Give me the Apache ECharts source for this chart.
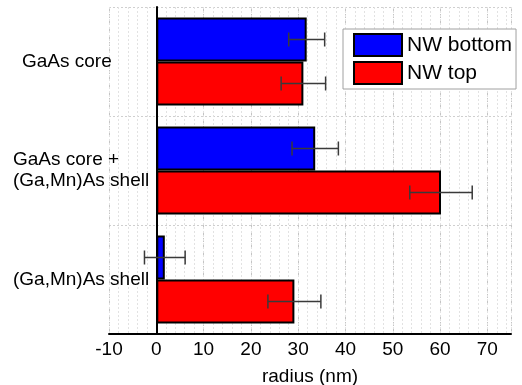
<!DOCTYPE html>
<html>
<head>
<meta charset="utf-8">
<script src="https://cdn.jsdelivr.net/npm/echarts@6/dist/echarts.min.js"></script>
<style>
  html, body { margin: 0; padding: 0; background: #fff; }
  #chart { width: 522px; height: 385px; }
</style>
</head>
<body>
<div id="chart"></div>
<script>
// Nanowire radius by structure, measured at the bottom and the top of the wire
const categories = ['GaAs core', 'GaAs core +\n(Ga,Mn)As shell', '(Ga,Mn)As shell'];
const bottomRadius = [31.8, 33.6, 1.8];
const bottomError = [3.8, 4.9, 4.3];
const topRadius = [31.1, 60.2, 29.2];
const topError = [4.7, 6.6, 5.6];
const seriesNames = ['NW bottom', 'NW top'];

const FONT = 'Liberation Sans, Arial, sans-serif';
const BAR_W = 44;

function errorData(values, errors) {
  return values.map((v, i) => [i, v - errors[i], v + errors[i]]);
}

function errorBarSeries(values, errors, offset) {
  return {
    type: 'custom',
    xAxisIndex: 0,
    yAxisIndex: 0,
    z: 10,
    silent: true,
    encode: { x: [1, 2], y: 0 },
    data: errorData(values, errors),
    renderItem: function (params, api) {
      const cat = api.value(0);
      const lo = api.coord([api.value(1), cat]);
      const hi = api.coord([api.value(2), cat]);
      const y = lo[1] + offset;
      const cap = 7;
      const style = { stroke: '#3a3a3a', lineWidth: 1.5, fill: null };
      return {
        type: 'group',
        children: [
          { type: 'line', shape: { x1: lo[0], y1: y, x2: hi[0], y2: y }, style: style },
          { type: 'line', shape: { x1: lo[0], y1: y - cap, x2: lo[0], y2: y + cap }, style: style },
          { type: 'line', shape: { x1: hi[0], y1: y - cap, x2: hi[0], y2: y + cap }, style: style }
        ]
      };
    }
  };
}

const chart = echarts.init(document.getElementById('chart'), null, { renderer: 'canvas' });

chart.setOption({
  animation: false,
  backgroundColor: '#fff',
  textStyle: { fontFamily: FONT },
  grid: { left: 109, right: 11, top: 7, bottom: 51, containLabel: false, outerBoundsMode: 'none' },
  legend: {
    data: seriesNames,
    orient: 'vertical',
    left: 343,
    top: 29,
    z: 20,
    padding: [4, 4, 4, 10],
    itemGap: 4,
    itemWidth: 48,
    itemHeight: 22,
    icon: 'rect',
    backgroundColor: '#fff',
    borderColor: '#a0a0a0',
    borderWidth: 1,
    borderRadius: 0,
    textStyle: { fontSize: 21, color: '#000', fontFamily: FONT }
  },
  xAxis: [
    {
      type: 'value',
      min: -10,
      max: 75,
      interval: 10,
      name: 'radius (nm)',
      nameLocation: 'middle',
      nameGap: 33,
      nameTextStyle: { fontSize: 19, color: '#000', fontFamily: FONT },
      axisLine: { show: true, onZero: false, lineStyle: { color: '#000', width: 2 } },
      axisTick: { show: false },
      axisLabel: { fontSize: 19, color: '#000', margin: 6, fontFamily: FONT, showMaxLabel: false,
        formatter: v => (v % 10 === 0 ? String(v) : '') },
      splitLine: { show: true, lineStyle: { color: '#c4c4c4', type: [4, 3], width: 1 } }
    },
    {
      // fine 2 nm grid behind the main one
      type: 'value',
      min: -10,
      max: 75,
      interval: 2,
      axisLine: { show: false },
      axisTick: { show: false },
      axisLabel: { show: false },
      splitLine: { show: true, lineStyle: { color: '#e2e2e2', type: [2, 2], width: 1 } }
    }
  ],
  yAxis: {
    type: 'category',
    inverse: true,
    data: categories,
    axisLine: { show: true, onZero: true, onZeroAxisIndex: 0, lineStyle: { color: '#000', width: 2 } },
    axisTick: { show: false },
    axisLabel: {
      align: 'left',
      margin: 96,
      fontSize: 19,
      lineHeight: 21,
      color: '#000',
      fontFamily: FONT,
      formatter: v => (v === 'GaAs core' ? '{pad|' + v + '}' : v),
      rich: { pad: { fontSize: 19, color: '#000', fontFamily: FONT, padding: [0, 0, 0, 9] } }
    },
    splitLine: { show: true, lineStyle: { color: '#cfcfcf', type: [2, 2], width: 1 } }
  },
  series: [
    {
      name: seriesNames[0],
      type: 'bar',
      data: bottomRadius,
      barWidth: BAR_W,
      barGap: 0,
      itemStyle: { color: '#0000ff', borderColor: '#000', borderWidth: 2 },
      z: 3
    },
    {
      name: seriesNames[1],
      type: 'bar',
      data: topRadius,
      barWidth: BAR_W,
      barGap: 0,
      itemStyle: { color: '#ff0000', borderColor: '#000', borderWidth: 2 },
      z: 3
    },
    errorBarSeries(bottomRadius, bottomError, -BAR_W / 2),
    errorBarSeries(topRadius, topError, BAR_W / 2)
  ]
});
</script>
</body>
</html>
